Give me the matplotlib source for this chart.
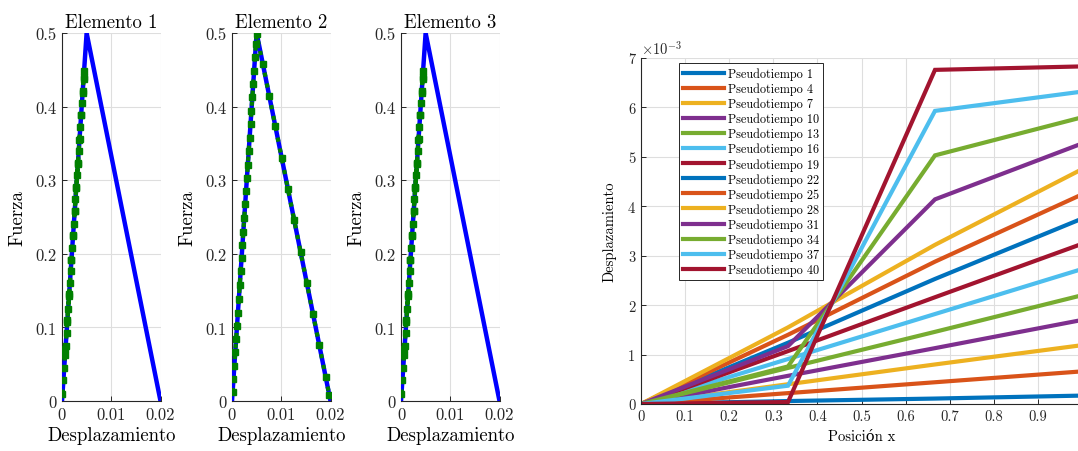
import matplotlib
matplotlib.use("Agg")
import matplotlib.pyplot as plt

plt.rcParams['font.family'] = ['cmr10', 'DejaVu Serif']
plt.rcParams['mathtext.fontset'] = 'cm'
plt.rcParams['axes.formatter.use_mathtext'] = True
plt.rcParams['axes.unicode_minus'] = False

# ---------------- data ----------------
# constitutive law (blue line): displacement vs force
law_disp = [0.0, 0.005, 0.02]
law_force = [0.0, 0.5, 0.0]

# element 2 history (green markers)
e2_disp = [0.00012, 0.00030, 0.00048, 0.00066, 0.00084, 0.00102, 0.00120, 0.00138,
           0.00158, 0.00176, 0.00194, 0.00212, 0.00230, 0.00248, 0.00267, 0.00285,
           0.00303, 0.00321, 0.00340, 0.00358, 0.00376, 0.00394, 0.00413, 0.00431,
           0.00449, 0.00467, 0.00485, 0.00498,
           0.00626, 0.00755, 0.00881, 0.01010, 0.01136, 0.01262, 0.01391, 0.01520,
           0.01646, 0.01772, 0.01901, 0.01976]
e2_force = [0.012, 0.030, 0.048, 0.066, 0.084, 0.102, 0.120, 0.138,
            0.158, 0.176, 0.194, 0.212, 0.230, 0.248, 0.267, 0.285,
            0.303, 0.321, 0.340, 0.358, 0.376, 0.394, 0.413, 0.431,
            0.449, 0.467, 0.485, 0.498,
            0.458, 0.415, 0.373, 0.330, 0.288, 0.246, 0.203, 0.160,
            0.118, 0.076, 0.033, 0.008]

# elements 1 and 3 history (green markers)
e1_disp = [0.00010, 0.00028, 0.00045, 0.00062, 0.00075, 0.00092, 0.00108, 0.00125,
           0.00143, 0.00160, 0.00176, 0.00192, 0.00208, 0.00224, 0.00241, 0.00258,
           0.00274, 0.00291, 0.00307, 0.00323, 0.00339, 0.00356, 0.00372, 0.00389,
           0.00405, 0.00421, 0.00438, 0.00448, 0.00440, 0.00418, 0.00388, 0.00355,
           0.00322, 0.00290, 0.00258, 0.00225, 0.00192, 0.00145, 0.00110, 0.00070]
e1_force = [0.010, 0.028, 0.045, 0.062, 0.075, 0.092, 0.108, 0.125,
            0.143, 0.160, 0.176, 0.192, 0.208, 0.224, 0.241, 0.258,
            0.274, 0.291, 0.307, 0.323, 0.339, 0.356, 0.372, 0.389,
            0.405, 0.421, 0.438, 0.448, 0.440, 0.418, 0.388, 0.355,
            0.322, 0.290, 0.258, 0.225, 0.192, 0.145, 0.110, 0.070]
e3_disp = e1_disp
e3_force = e1_force

elem_titles = ['Elemento 1', 'Elemento 2', 'Elemento 3']

# displacement profiles along the bar (x10^-3)
x_pos = [0.0, 1/3, 2/3, 1.0]
pseudotimes = [1, 4, 7, 10, 13, 16, 19, 22, 25, 28, 31, 34, 37, 40]
u_profiles = [
    [0, 0.06, 0.11, 0.17],
    [0, 0.22, 0.44, 0.66],
    [0, 0.40, 0.80, 1.19],
    [0, 0.57, 1.13, 1.70],
    [0, 0.73, 1.46, 2.20],
    [0, 0.91, 1.82, 2.73],
    [0, 1.07, 2.16, 3.24],
    [0, 1.24, 2.53, 3.75],
    [0, 1.40, 2.88, 4.24],
    [0, 1.55, 3.22, 4.75],
    [0, 1.17, 4.14, 5.27],
    [0, 0.76, 5.03, 5.80],
    [0, 0.37, 5.93, 6.32],
    [0, 0.04, 6.76, 6.83],
]
colors = ['#0072BD', '#D95319', '#EDB120', '#7E2F8E', '#77AC30', '#4DBEEE', '#A2142F']
x_ticks = [0, 0.1, 0.2, 0.3, 0.4, 0.5, 0.6, 0.7, 0.8, 0.9]
x_ticklabels = ['0', '0.1', '0.2', '0.3', '0.4', '0.5', '0.6', '0.7', '0.8', '0.9']

# ---------------- figure ----------------
W, H = 1078, 452
fig = plt.figure(figsize=(W / 100, H / 100), dpi=100)

AX_COL = '#262626'
GRID_COL = '#dedede'


def style(ax, tick_fs):
    for s in ['top', 'right']:
        ax.spines[s].set_visible(False)
    for s in ['left', 'bottom']:
        ax.spines[s].set_color(AX_COL)
        ax.spines[s].set_linewidth(0.8)
    ax.tick_params(direction='in', length=3.5, width=0.7, colors=AX_COL,
                   labelsize=tick_fs, pad=4)
    ax.grid(True, color=GRID_COL, linewidth=0.8)
    ax.set_axisbelow(True)


def px_axes(l, r, t, b):
    return fig.add_axes([l / W, (H - b) / H, (r - l) / W, (b - t) / H])


left_px = [62, 232, 401]
elem_data = [(e1_disp, e1_force), (e2_disp, e2_force), (e3_disp, e3_force)]
for i in range(3):
    ax = px_axes(left_px[i], left_px[i] + 98.5, 34, 402)
    style(ax, 12)
    ax.plot(law_disp, law_force, color='blue', lw=3.2, zorder=3)
    d, f = elem_data[i]
    ax.plot(d, f, ls=':', color='#008000', lw=3, marker='s', markersize=5,
            markerfacecolor='#008000', markeredgecolor='#008000', zorder=4)
    ax.set_xlim(0, 0.02)
    ax.set_ylim(0, 0.5)
    ax.set_xticks([0, 0.01, 0.02])
    ax.set_xticklabels(['0', '0.01', '0.02'])
    ax.set_yticks([0, 0.1, 0.2, 0.3, 0.4, 0.5])
    ax.set_yticklabels(['0', '0.1', '0.2', '0.3', '0.4', '0.5'])
    ax.set_title(elem_titles[i], fontsize=13.5, pad=4, color='black')
    ax.set_xlabel('Desplazamiento', fontsize=13.5, labelpad=3)
    ax.set_ylabel('Fuerza', fontsize=13.5, labelpad=6)

# right plot
ax = px_axes(641, 1082, 59, 405)
style(ax, 10.5)
for k, (pt, u) in enumerate(zip(pseudotimes, u_profiles)):
    ax.plot(x_pos, u, color=colors[k % 7], lw=3, label=f'Pseudotiempo {pt}',
            solid_joinstyle='miter')
ax.set_xlim(0, 1)
ax.set_ylim(0, 7)
ax.set_xticks(x_ticks)
ax.set_xticklabels(x_ticklabels)
ax.set_yticks(range(8))
ax.set_yticklabels([str(v) for v in range(8)])
ax.set_xlabel('Posición x', fontsize=10.5, labelpad=4)
ax.set_ylabel('Desplazamiento', fontsize=10.5, labelpad=8)
ax.text(0.0, 1.005, r'$\times 10^{-3}$', transform=ax.transAxes, fontsize=10.5,
        ha='left', va='bottom', color=AX_COL)
leg = ax.legend(loc='upper left', bbox_to_anchor=(0.086, 0.985), fontsize=8.8,
                handlelength=3.3, handletextpad=0.35, labelspacing=0.2,
                borderpad=0.35, fancybox=False, framealpha=1,
                edgecolor=AX_COL, borderaxespad=0)
leg.get_frame().set_linewidth(0.7)

fig.savefig('out.png', dpi=100)
